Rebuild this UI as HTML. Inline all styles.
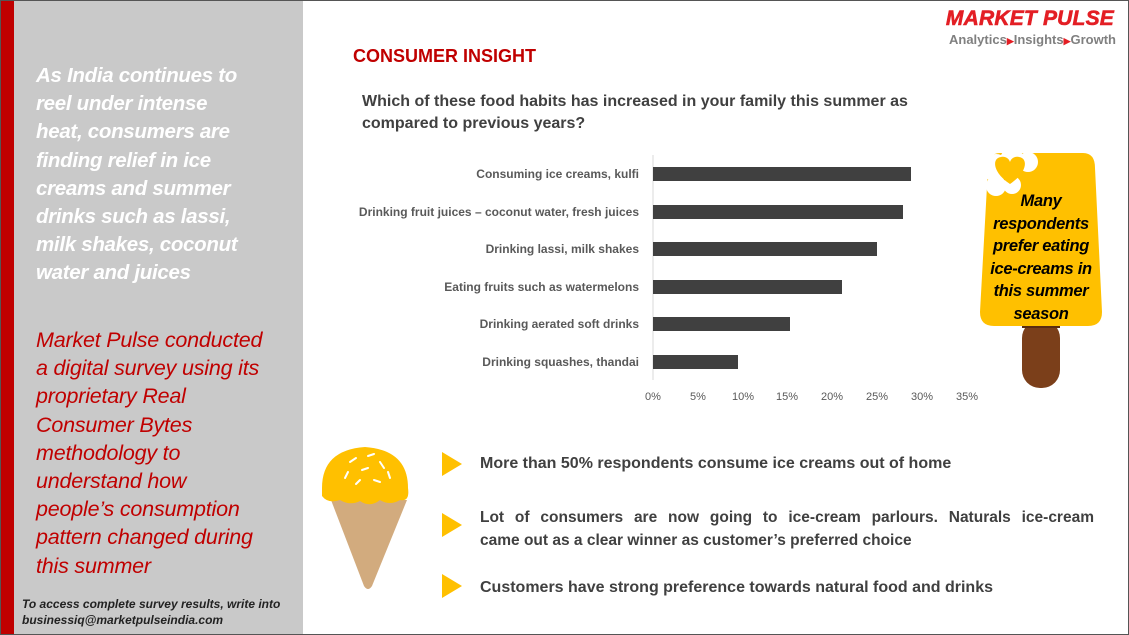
<!DOCTYPE html>
<html><head><meta charset="utf-8"><style>
*{margin:0;padding:0;box-sizing:border-box}
body{width:1129px;height:635px;position:relative;background:#fff;font-family:"Liberation Sans",sans-serif;overflow:hidden}
.a{position:absolute;white-space:nowrap}
</style></head><body>
<div class="a" style="left:0;top:0;width:1129px;height:635px;border:1px solid #555"></div>
<div class="a" style="left:1px;top:1px;width:13px;height:633px;background:#c00000"></div>
<div class="a" style="left:14px;top:1px;width:289px;height:633px;background:#c9c9c9"></div>
<div class="a" style="left:36px;top:62px;color:#fff;font-size:20.5px;font-weight:bold;font-style:italic;line-height:28.2px;letter-spacing:-0.3px">As India continues to<br>reel under intense<br>heat, consumers are<br>finding relief in ice<br>creams and summer<br>drinks such as lassi,<br>milk shakes, coconut<br>water and juices</div>
<div class="a" style="left:36px;top:326px;color:#c00000;font-size:21.5px;font-style:italic;line-height:28.2px;letter-spacing:-0.2px">Market Pulse conducted<br>a digital survey using its<br>proprietary Real<br>Consumer Bytes<br>methodology to<br>understand how<br>people’s consumption<br>pattern changed during<br>this summer</div>
<div class="a" style="left:22px;top:596px;color:#222;font-size:12px;font-weight:bold;font-style:italic;line-height:16px">To access complete survey results, write into<br>businessiq@marketpulseindia.com</div>

<div class="a" style="left:930px;top:7px;width:184px;text-align:right;color:#e31e24;font-size:21px;font-weight:900;font-style:italic;letter-spacing:0.2px;-webkit-text-stroke:0.6px #e31e24">MARKET PULSE</div>
<div class="a" style="left:900px;top:32px;width:216px;text-align:right;color:#808080;font-size:13px;font-weight:bold">Analytics<span style="color:#e31e24;font-size:9px">▶</span>Insights<span style="color:#e31e24;font-size:9px">▶</span>Growth</div>

<div class="a" style="left:353px;top:46px;color:#c00000;font-size:18px;font-weight:bold">CONSUMER INSIGHT</div>
<div class="a" style="left:362px;top:91px;color:#404040;font-size:16px;font-weight:bold;line-height:22px">Which of these food habits has increased in your family this summer as<br>compared to previous years?</div>

<svg class="a" style="left:0;top:0" width="1129" height="635">
<line x1="653" y1="155" x2="653" y2="380" stroke="#d9d9d9"/>
<g fill="#404040">
<rect x="653" y="167" width="258" height="14"/>
<rect x="653" y="205" width="250" height="14"/>
<rect x="653" y="242" width="224" height="14"/>
<rect x="653" y="280" width="189" height="14"/>
<rect x="653" y="317" width="137" height="14"/>
<rect x="653" y="355" width="85" height="14"/>
</g>
<g font-family="Liberation Sans" font-size="12" font-weight="bold" fill="#595959" text-anchor="end">
<text x="639" y="178">Consuming ice creams, kulfi</text>
<text x="639" y="216">Drinking fruit juices – coconut water, fresh juices</text>
<text x="639" y="253">Drinking lassi, milk shakes</text>
<text x="639" y="291">Eating fruits such as watermelons</text>
<text x="639" y="328">Drinking aerated soft drinks</text>
<text x="639" y="366">Drinking squashes, thandai</text>
</g>
<g font-family="Liberation Sans" font-size="11" fill="#595959" text-anchor="middle">
<text x="653" y="400">0%</text><text x="698" y="400">5%</text><text x="743" y="400">10%</text><text x="787" y="400">15%</text><text x="832" y="400">20%</text><text x="877" y="400">25%</text><text x="922" y="400">30%</text><text x="967" y="400">35%</text>
</g>
<!-- popsicle -->
<rect x="1022" y="320" width="38" height="68" rx="18" fill="#7b3f1a"/>
<rect x="1022" y="320" width="38" height="8" fill="#5a2c10"/>
<path d="M1000 153 H1083 Q1095 153 1095 168 L1102 312 Q1102 326 1088 326 H994 Q980 326 980 312 L988 168 Q988 153 1000 153Z" fill="#ffc000"/>
<circle cx="996" cy="168" r="14" fill="#fff"/><circle cx="1012" cy="160" r="12" fill="#fff"/><circle cx="1028" cy="162" r="10" fill="#fff"/><circle cx="996" cy="186" r="10" fill="#fff"/><circle cx="1012" cy="185" r="9" fill="#fff"/>
<path d="M1010 184 C992 172 992 158 1001 157 C1006 156 1009 159 1010 162 C1011 159 1014 156 1019 157 C1028 158 1028 172 1010 184Z" fill="#ffc000"/>
<!-- cone -->
<path d="M331 500 L407 500 L372 586 Q368 592 364 586Z" fill="#d2ab7e"/>
<path d="M322 488 Q322 450 365 447 Q408 450 408 488 Q410 502 400 500 Q390 506 380 500 Q370 508 360 501 Q350 506 340 500 Q328 504 322 496Z" fill="#ffc000"/>
<g stroke="#fff" stroke-width="2" stroke-linecap="round"><line x1="350" y1="462" x2="356" y2="458"/><line x1="368" y1="456" x2="374" y2="454"/><line x1="380" y1="462" x2="384" y2="468"/><line x1="345" y1="478" x2="348" y2="472"/><line x1="362" y1="470" x2="368" y2="468"/><line x1="374" y1="480" x2="380" y2="482"/><line x1="388" y1="472" x2="390" y2="478"/><line x1="356" y1="484" x2="360" y2="480"/></g>
<g fill="#ffc000"><path d="M442 452 L462 464 L442 476Z"/><path d="M442 513 L462 525 L442 537Z"/><path d="M442 574 L462 586 L442 598Z"/></g>
</svg>
<div class="a" style="left:976px;top:190px;width:130px;text-align:center;color:#000;font-size:16.5px;font-weight:bold;font-style:italic;line-height:22.5px;letter-spacing:-0.3px">Many<br>respondents<br>prefer eating<br>ice-creams in<br>this summer<br>season</div>
<div class="a" style="left:480px;top:455px;color:#404040;font-size:16px;font-weight:bold">More than 50% respondents consume ice creams out of home</div>
<div class="a" style="left:480px;top:506px;width:614px;color:#404040;font-size:15.5px;font-weight:bold;line-height:23px;text-align:justify;text-align-last:justify">Lot of consumers are now going to ice-cream parlours. Naturals ice-cream</div>
<div class="a" style="left:480px;top:529px;color:#404040;font-size:15.5px;font-weight:bold;line-height:23px">came out as a clear winner as customer’s preferred choice</div>
<div class="a" style="left:480px;top:579px;color:#404040;font-size:16px;font-weight:bold">Customers have strong preference towards natural food and drinks</div>
</body></html>
